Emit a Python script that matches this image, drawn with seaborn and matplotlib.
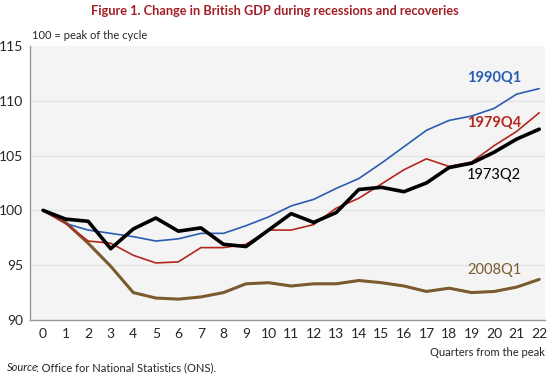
import matplotlib.pyplot as plt
import seaborn as sns
import pandas as pd

quarters = list(range(23))

gdp_1973q2 = [100, 99.2, 99.0, 96.5, 98.3, 99.3, 98.1, 98.4, 96.9, 96.7, 98.2, 99.7,
              98.9, 99.8, 101.9, 102.1, 101.7, 102.5, 103.9, 104.3, 105.3, 106.5, 107.4]
gdp_1979q4 = [100, 98.8, 97.2, 97.0, 95.9, 95.2, 95.3, 96.6, 96.6, 96.9, 98.2, 98.2,
              98.7, 100.2, 101.1, 102.4, 103.7, 104.7, 104.0, 104.4, 105.9, 107.2, 108.9]
gdp_1990q1 = [100, 98.8, 98.2, 97.9, 97.6, 97.2, 97.4, 97.9, 97.9, 98.6, 99.4, 100.4,
              101.0, 102.0, 102.9, 104.3, 105.8, 107.3, 108.2, 108.6, 109.3, 110.6, 111.1]
gdp_2008q1 = [100, 98.9, 97.0, 94.9, 92.5, 92.0, 91.9, 92.1, 92.5, 93.3, 93.4, 93.1,
              93.3, 93.3, 93.6, 93.4, 93.1, 92.6, 92.9, 92.5, 92.6, 93.0, 93.7]

y_ticks = [90, 95, 100, 105, 110, 115]

sns.set_style("white")
plt.rcParams["font.family"] = ["Lato", "DejaVu Sans"]

fig = plt.figure(figsize=(5.5, 3.76), dpi=100)
ax = fig.add_axes([0.0545, 0.149, 0.937, 0.729])
ax.set_facecolor("#f4f4f4")

for y in [95, 100, 105, 110]:
    ax.axhline(y, color="#e4e4e4", lw=0.9, zorder=0)

# series: (values, colour, width, label, label y)
series = [
    (gdp_2008q1, "#7a5a2e", 2.2, "2008Q1", 94.6),
    (gdp_1990q1, "#2a5cb0", 1.2, "1990Q1", 112.1),
    (gdp_1979q4, "#b3281e", 1.2, "1979Q4", 108.0),
    (gdp_1973q2, "#000000", 2.6, "1973Q2", 103.2),
]
for vals, col, lw, lab, ly in series:
    df = pd.DataFrame({"q": quarters, "v": vals})
    sns.lineplot(data=df, x="q", y="v", ax=ax, color=col, lw=lw,
                 solid_joinstyle="round", solid_capstyle="round")
    ax.text(20.0, ly, lab, color=col, fontsize=10.5,
            fontweight="normal" if lab in ("1973Q2", "2008Q1") else "bold",
            ha="center", va="center")

ax.set_xlim(-0.58, 22.27)
ax.set_ylim(90, 115)
ax.set_xticks(quarters)
ax.set_xticks([q + 0.5 for q in quarters[:-1]], minor=True)
ax.set_yticks(y_ticks)
ax.tick_params(axis="x", which="major", length=0, labelsize=10, pad=6)
ax.tick_params(axis="x", which="minor", length=4, color="#999999", direction="out")
ax.tick_params(axis="y", length=0, labelsize=10, pad=5)
ax.set_xlabel("")
ax.set_ylabel("")

sns.despine(ax=ax, top=True, right=True)
for s in ["left", "bottom"]:
    ax.spines[s].set_color("#999999")
    ax.spines[s].set_linewidth(1.0)

fig.text(0.5, 0.972, "Figure 1. Change in British GDP during recessions and recoveries",
         ha="center", va="center", fontsize=9.2, fontweight="bold", color="#a21f26")
fig.text(0.058, 0.905, "100 = peak of the cycle", ha="left", va="center", fontsize=8)
fig.text(0.99, 0.063, "Quarters from the peak", ha="right", va="center", fontsize=8)

fig.text(0.013, 0.022, "Source", ha="left", va="center", fontsize=8, style="italic")
fig.text(0.065, 0.022, ": Office for National Statistics (ONS).",
         ha="left", va="center", fontsize=8)

fig.savefig("out.png", dpi=100)
